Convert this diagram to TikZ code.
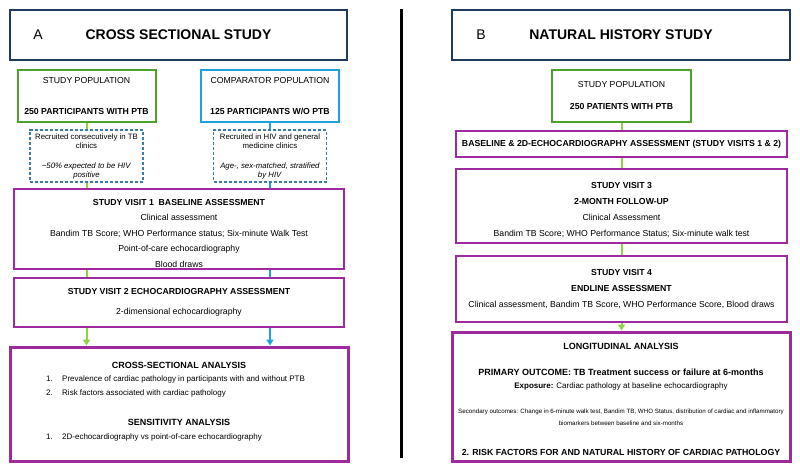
\documentclass[tikz,border=0pt]{standalone}
\usepackage{fontspec}
\setmainfont{Liberation Sans}
\usetikzlibrary{arrows.meta}

\definecolor{navy}{HTML}{1F3A5C}
\definecolor{ptbgreen}{HTML}{4BA32E}
\definecolor{linkgreen}{HTML}{8DD43F}
\definecolor{compblue}{HTML}{1DA1E0}
\definecolor{dashblue}{HTML}{3B7BA6}
\definecolor{visitpurple}{HTML}{9E2A9E}

\newcommand{\fs}[2]{\fontsize{#1}{#2}\selectfont}

\begin{document}
\begin{tikzpicture}[x=1pt,y=-1pt,
    titlebox/.style={draw=navy,line width=2pt,minimum width=337pt,minimum height=50pt},
    popbox/.style={line width=2pt,align=center,minimum width=138pt,font=\fs{8.7}{10}},
    notebox/.style={draw=dashblue,line width=1.2pt,dash pattern=on 3pt off 2pt,align=center,
      minimum width=113pt,minimum height=51pt,font=\fs{7.8}{9}},
    visitbox/.style={draw=visitpurple,line width=1.3pt,align=center,minimum width=330pt,font=\fs{8.7}{15.5}},
    resultbox/.style={draw=visitpurple,line width=3pt,minimum width=338pt},
    greenlink/.style={draw=linkgreen,line width=2pt},
    bluelink/.style={draw=compblue,line width=2pt},
    tip/.style={-{Triangle[width=7pt,length=6pt]}}]

  \useasboundingbox (0,0) rectangle (800,471);

  % panel A
  \node[titlebox] (ta) at (178.5,35) {};
  \node (ta-l) at (38,35) {\fs{14}{16}A};
  \node (ta-t) at (178.5,35) {\fs{14}{16}\bfseries CROSS SECTIONAL STUDY};

  \node[popbox,draw=ptbgreen,minimum height=52pt] (pop) at (86.5,96)
    {STUDY POPULATION\\[21pt]\textbf{250 PARTICIPANTS WITH PTB}};
  \node[popbox,draw=compblue,minimum height=52pt] (comp) at (270,96)
    {COMPARATOR POPULATION\\[21pt]\textbf{125 PARTICIPANTS W/O PTB}};

  \node[notebox] (pop-n) at (86.5,156)
    {Recruited consecutively in TB\\clinics\\[11pt]\textit{\textasciitilde 50\% expected to be HIV}\\\textit{positive}};
  \node[notebox] (comp-n) at (270,156)
    {Recruited in HIV and general\\medicine clinics\\[11pt]\textit{Age-, sex-matched, stratified}\\\textit{by HIV}};

  \node[visitbox,minimum height=80pt] (v1) at (179,229) {};
  \node[align=center,font=\fs{8.7}{15.5}] (v1-t) at (179,233.5)
    {\textbf{STUDY VISIT 1\ \ BASELINE ASSESSMENT}\\Clinical assessment\\
     Bandim TB Score; WHO Performance status; Six-minute Walk Test\\
     Point-of-care echocardiography\\Blood draws};
  \node[visitbox,minimum height=49pt,font=\fs{8.7}{20}] (v2) at (179,302.5)
    {\textbf{STUDY VISIT 2 ECHOCARDIOGRAPHY ASSESSMENT}\\2-dimensional echocardiography};

  \node[resultbox,minimum height=114pt] (cs) at (179,404) {};

  \begin{scope}[every node/.style={inner sep=0pt}]
    \node (cs-h) at (179,365) {\fs{9}{11}\bfseries CROSS-SECTIONAL ANALYSIS};
    \node[anchor=west] (cs-1n) at (46,379) {\fs{8}{10}1.};
    \node[anchor=west] (cs-1) at (62,379) {\fs{8}{10}Prevalence of cardiac pathology in participants with and without PTB};
    \node[anchor=west] (cs-2n) at (46,393) {\fs{8}{10}2.};
    \node[anchor=west] (cs-2) at (62,393) {\fs{8}{10}Risk factors associated with cardiac pathology};
    \node (sa-h) at (179,422) {\fs{9}{11}\bfseries SENSITIVITY ANALYSIS};
    \node[anchor=west] (sa-1n) at (46,437) {\fs{8}{10}1.};
    \node[anchor=west] (sa-1) at (62,437) {\fs{8}{10}2D-echocardiography vs point-of-care echocardiography};
  \end{scope}

  \path[greenlink] (pop.south) -- (pop.south |- pop-n.north);
  \path[greenlink] (pop-n.south) -- (pop-n.south |- v1.north);
  \path[greenlink] (v1.south -| pop.south) -- (v2.north -| pop.south);
  \path[greenlink,tip] (v2.south -| pop.south) -- (cs.north -| pop.south);
  \path[bluelink] (comp.south) -- (comp.south |- comp-n.north);
  \path[bluelink] (comp-n.south) -- (comp-n.south |- v1.north);
  \path[bluelink] (v1.south -| comp.south) -- (v2.north -| comp.south);
  \path[bluelink,tip] (v2.south -| comp.south) -- (cs.north -| comp.south);

  % divider
  \draw[line width=3pt] (401,9) -- (401,458);

  % panel B
  \node[titlebox,minimum width=338pt] (tb) at (621,35) {};
  \node (tb-l) at (481,35) {\fs{14}{16}B};
  \node (tb-t) at (621,35) {\fs{14}{16}\bfseries NATURAL HISTORY STUDY};

  \node[popbox,draw=ptbgreen,minimum width=139pt,minimum height=52pt] (pat) at (621.5,96)
    {STUDY POPULATION\\[12pt]\textbf{250 PATIENTS WITH PTB}};

  \node[visitbox,minimum width=331pt,minimum height=26pt,font=\fs{8.7}{10}\bfseries] (base) at (621.5,144)
    {BASELINE \& 2D-ECHOCARDIOGRAPHY ASSESSMENT (STUDY VISITS 1 \& 2)};
  \node[visitbox,minimum width=331pt,minimum height=74pt] (v3) at (621.5,206) {};
  \node[align=center,font=\fs{8.7}{16}] (v3-t) at (621.5,210)
    {\textbf{STUDY VISIT 3}\\\textbf{2-MONTH FOLLOW-UP}\\Clinical Assessment\\
     Bandim TB Score; WHO Performance Status; Six-minute walk test};
  \node[visitbox,minimum width=331pt,minimum height=66pt,font=\fs{8.7}{16}] (v4) at (621.5,289)
    {\textbf{STUDY VISIT 4}\\\textbf{ENDLINE ASSESSMENT}\\
     Clinical assessment, Bandim TB Score, WHO Performance Score, Blood draws};

  \node[resultbox,minimum height=129pt] (la) at (621,396.5) {};

  \begin{scope}[every node/.style={inner sep=0pt}]
    \node (la-h) at (621,346) {\fs{9}{11}\bfseries LONGITUDINAL ANALYSIS};
    \node (la-p) at (621,372) {\fs{9}{11}\bfseries PRIMARY OUTCOME: TB Treatment success or failure at 6-months};
    \node (la-e) at (621,386) {\fs{8}{10}\textbf{Exposure:} Cardiac pathology at baseline echocardiography};
    \node[align=center,font=\fs{6.2}{12}] (la-s) at (621,417)
      {Secondary outcomes: Change in 6-minute walk test, Bandim TB, WHO Status, distribution of cardiac and inflammatory\\
       biomarkers between baseline and six-months};
    \node (la-r) at (621,452) {\fs{8.8}{11}\bfseries 2. RISK FACTORS FOR AND NATURAL HISTORY OF CARDIAC PATHOLOGY};
  \end{scope}

  \path[greenlink] (pat.south) -- (pat.south |- base.north);
  \path[greenlink] (base.south -| pat.south) -- (v3.north -| pat.south);
  \path[greenlink] (v3.south -| pat.south) -- (v4.north -| pat.south);
  \path[greenlink,tip] (v4.south -| pat.south) -- (la.north -| pat.south);

\end{tikzpicture}
\end{document}
